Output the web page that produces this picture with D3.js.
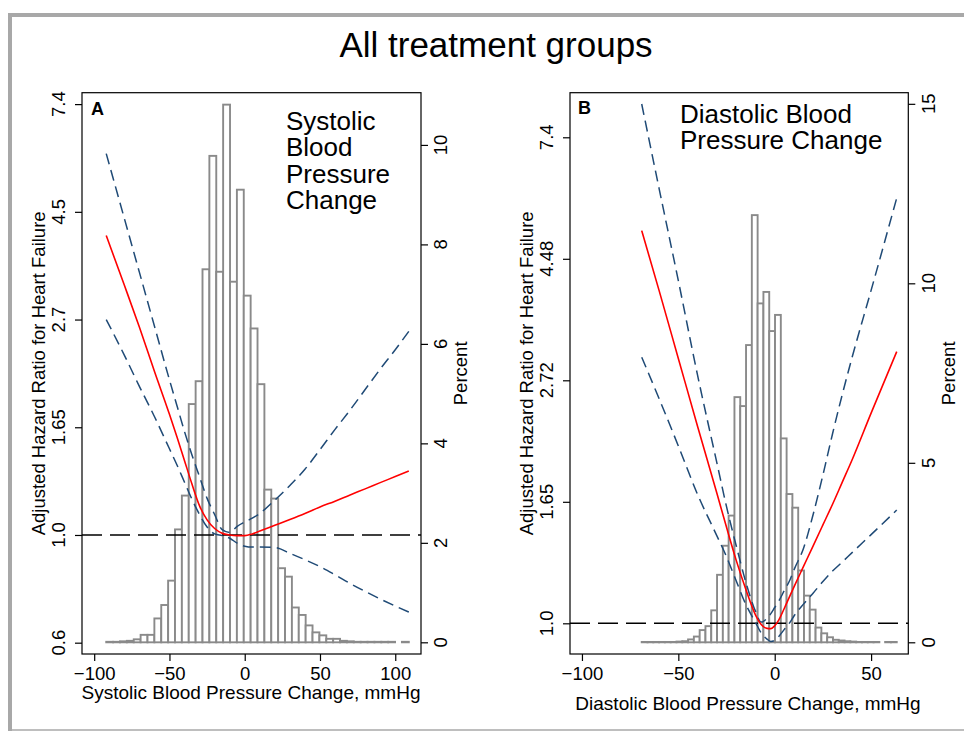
<!DOCTYPE html>
<html>
<head>
<meta charset="utf-8">
<script src="https://cdn.jsdelivr.net/npm/d3@7"></script>
<style>
    body { margin: 0; background: #ffffff; }
    svg { font-family: "Liberation Sans", Arial, Helvetica, sans-serif; }
</style>
</head>
<body>
<svg id="chart" width="964" height="731"></svg>
<script>
// ---- Panel A: systolic blood pressure change ----
const sbpHistRange = [-92, 109];
const sbpHistPct = [
    0.01, 0.01, 0.02, 0.03, 0.06, 0.15, 0.15, 0.48, 0.75, 1.24, 2.27,
    2.95, 4.79, 5.25, 7.5, 9.78, 7.45, 10.81, 7.25, 9.1, 6.97, 6.31,
    5.19, 3.07, 2.89, 1.49, 1.32, 0.7, 0.55, 0.34, 0.2, 0.14, 0.07,
    0.07, 0.03, 0.02, 0.01, 0.01, 0.01, 0.01, 0.01, 0.01, 0, 0.01
];
// curve values are log hazard ratios
const sbpX = [-92, -80, -70, -60, -50, -45, -40, -35, -30, -25, -20, -15, -10,
    -5, 0, 5, 10, 20, 30, 40, 50, 60, 70, 80, 90, 100, 109];
const sbpLogHR = [1.39, 1.16, 0.965, 0.76, 0.56, 0.455, 0.345, 0.235, 0.135, 0.07,
    0.03, 0.008, 0, -0.003, -0.003, 0.005, 0.018, 0.045, 0.072, 0.1, 0.13, 0.157,
    0.186, 0.214, 0.243, 0.271, 0.297];
const sbpUpper = [1.77, 1.47, 1.22, 0.97, 0.72, 0.6, 0.48, 0.37, 0.27, 0.17, 0.095,
    0.025, 0.012, 0.04, 0.06, 0.078, 0.1, 0.162, 0.23, 0.305, 0.396, 0.49, 0.58,
    0.675, 0.77, 0.86, 0.945];
const sbpLower = [1.0, 0.835, 0.69, 0.55, 0.4, 0.325, 0.245, 0.165, 0.095, 0.037,
    0.005, -0.003, -0.015, -0.038, -0.052, -0.056, -0.056, -0.058, -0.085, -0.115,
    -0.147, -0.185, -0.225, -0.262, -0.297, -0.33, -0.358];
const sbpXTicks = [-100, -50, 0, 50, 100];
const sbpXLabels = ['\u2212100', '\u221250', '0', '50', '100'];
const sbpYTicks = [-0.5, 0, 0.5, 1, 1.5, 2];
const sbpYLabels = ['0.6', '1.0', '1.65', '2.7', '4.5', '7.4'];
const sbpPctTicks = [0, 2, 4, 6, 8, 10];

// ---- Panel B: diastolic blood pressure change ----
const dbpHistRange = [-69, 63.3];
const dbpHistPct = [
    0.01, 0.01, 0.01, 0.01, 0.01, 0.01, 0.02, 0.03, 0.08, 0.16, 0.34,
    0.45, 0.89, 1.88, 2.69, 3.53, 6.83, 6.58, 8.28, 11.9, 9.44, 9.76,
    8.67, 9.12, 5.68, 4.13, 3.75, 2.0, 1.3, 0.91, 0.41, 0.25, 0.14,
    0.07, 0.05, 0.03, 0.02, 0.01, 0.01, 0.01, 0.01, 0, 0.01, 0.01
];
const dbpX = [-69, -60, -50, -40, -30, -25, -20, -15, -10, -7, -4, -2, 0, 2, 5, 8,
    10, 15, 20, 25, 30, 35, 40, 50, 63.3];
const dbpLogHR = [1.616, 1.37, 1.09, 0.81, 0.535, 0.395, 0.26, 0.14, 0.035, -0.005,
    -0.021, -0.022, -0.01, 0.012, 0.062, 0.115, 0.15, 0.235, 0.32, 0.405, 0.49, 0.58,
    0.67, 0.865, 1.118];
const dbpUpper = [2.137, 1.79, 1.41, 1.02, 0.66, 0.48, 0.32, 0.17, 0.05, 0.005, 0.02,
    0.04, 0.065, 0.09, 0.135, 0.18, 0.22, 0.31, 0.45, 0.61, 0.78, 0.94, 1.09, 1.37,
    1.75];
const dbpLower = [1.095, 0.925, 0.73, 0.53, 0.36, 0.274, 0.175, 0.078, 0.004, -0.04,
    -0.065, -0.075, -0.07, -0.055, -0.025, 0.005, 0.03, 0.08, 0.125, 0.172, 0.215,
    0.252, 0.29, 0.365, 0.466];
const dbpXTicks = [-100, -50, 0, 50];
const dbpXLabels = ['\u2212100', '\u221250', '0', '50'];
const dbpYTicks = [0, 0.5, 1, 1.5, 2];
const dbpYLabels = ['1.0', '1.65', '2.72', '4.48', '7.4'];
const dbpPctTicks = [0, 5, 10, 15];

const svg = d3.select('#chart');
const tickFont = 18.5;
const blue = '#1f4a76';

// page frame (grey border of the scanned figure)
svg.append('rect').attr('x', 8).attr('y', 13).attr('width', 960).attr('height', 4).attr('fill', '#a8a8a8');
svg.append('rect').attr('x', 8).attr('y', 13).attr('width', 4).attr('height', 718).attr('fill', '#a8a8a8');
svg.append('line').attr('x1', 12).attr('x2', 964).attr('y1', 730).attr('y2', 730)
    .attr('stroke', '#a8a8a8').attr('stroke-width', 1.5);

svg.append('text')
    .attr('x', 496).attr('y', 57)
    .attr('text-anchor', 'middle')
    .style('font-size', '35px')
    .text('All treatment groups');

/**
 * Rotated (bottom-to-top) text, baseline at x
 */
function vText(g, x, y, txt, size) {
    return g.append('text')
        .attr('transform', 'translate(' + x + ',' + y + ') rotate(-90)')
        .attr('text-anchor', 'middle')
        .style('font-size', size + 'px')
        .text(txt);
}

/**
 * Draw one panel: histogram on the right axis, spline + CI on the left axis
 */
function drawPanel(p) {
    const g = svg.append('g');
    const x = d3.scaleLinear().domain(p.xDomain).range([p.left, p.right]);
    const y = d3.scaleLinear().domain(p.yDomain).range([p.bottom, p.top]);
    const pct = d3.scaleLinear().domain(p.pctDomain).range([p.bottom, p.top]);

    // histogram
    const w = (p.histRange[1] - p.histRange[0]) / p.hist.length;
    const bins = p.hist.map((v, i) => ({x0: p.histRange[0] + i * w, x1: p.histRange[0] + (i + 1) * w, v: v}))
        .filter(b => b.v > 0);
    g.append('g').selectAll('rect').data(bins).enter().append('rect')
        .attr('x', b => x(b.x0))
        .attr('width', b => x(b.x1) - x(b.x0))
        .attr('y', b => pct(b.v))
        .attr('height', b => pct(0) - pct(b.v))
        .attr('fill', '#ffffff')
        .attr('stroke', '#8a8a8a')
        .attr('stroke-width', 1.9);

    // reference line HR = 1
    g.append('line')
        .attr('x1', p.left).attr('x2', p.right)
        .attr('y1', y(0)).attr('y2', y(0))
        .attr('stroke', '#000').attr('stroke-width', 1.5)
        .attr('stroke-dasharray', '20,8');

    const line = d3.line().curve(d3.curveMonotoneX).x(d => x(d[0])).y(d => y(d[1]));
    [p.upper, p.lower].forEach(function(s) {
        g.append('path')
            .datum(p.xs.map((v, i) => [v, s[i]]))
            .attr('d', line)
            .attr('fill', 'none')
            .attr('stroke', blue).attr('stroke-width', 1.5)
            .attr('stroke-dasharray', '11,6');
    });
    g.append('path')
        .datum(p.xs.map((v, i) => [v, p.hr[i]]))
        .attr('d', line)
        .attr('fill', 'none')
        .attr('stroke', '#ff0000').attr('stroke-width', 1.6);

    // plot frame
    g.append('rect')
        .attr('x', p.left).attr('y', p.top)
        .attr('width', p.right - p.left).attr('height', p.bottom - p.top)
        .attr('fill', 'none').attr('stroke', '#000').attr('stroke-width', 1.2);

    // bottom axis
    const ax = g.append('g').attr('transform', 'translate(0,' + p.bottom + ')')
        .call(d3.axisBottom(x).tickValues(p.xTicks).tickFormat((d, i) => p.xLabels[i]).tickSize(7).tickPadding(4));
    ax.select('.domain').remove();
    ax.selectAll('text').style('font-size', tickFont + 'px').attr('fill', '#000')
        .attr('dy', null).attr('y', 26);
    ax.selectAll('line').attr('stroke-width', 1.2);

    // left axis (labels drawn rotated)
    const ay = g.append('g').attr('transform', 'translate(' + p.left + ',0)')
        .call(d3.axisLeft(y).tickValues(p.yTicks).tickSize(7).tickFormat(''));
    ay.select('.domain').remove();
    ay.selectAll('line').attr('stroke-width', 1.2);
    p.yTicks.forEach((t, i) => vText(g, p.leftLabelX, y(t), p.yLabels[i], tickFont));

    // right axis (percent)
    const ar = g.append('g').attr('transform', 'translate(' + p.right + ',0)')
        .call(d3.axisRight(pct).tickValues(p.pctTicks).tickSize(7).tickFormat(''));
    ar.select('.domain').remove();
    ar.selectAll('line').attr('stroke-width', 1.2);
    p.pctTicks.forEach(t => vText(g, p.rightLabelX, pct(t), String(t), tickFont));

    // titles
    vText(g, p.yTitleX, (p.top + p.bottom) / 2, 'Adjusted Hazard Ratio for Heart Failure', 18.5);
    vText(g, p.pctTitleX, (p.top + p.bottom) / 2, 'Percent', 18.5);
    g.append('text')
        .attr('x', p.xTitleX).attr('y', p.xTitleY)
        .attr('text-anchor', 'middle')
        .style('font-size', '19px')
        .text(p.xTitle);

    g.append('text')
        .attr('x', p.letterX).attr('y', p.letterY)
        .style('font-size', '18px').style('font-weight', 'bold')
        .text(p.letter);

    // panel caption, one <text> with line breaks as tspans
    const note = g.append('text')
        .attr('x', p.noteX).attr('y', p.noteY)
        .style('font-size', '26px');
    p.note.forEach(function(t, i) {
        note.append('tspan')
            .attr('x', p.noteX)
            .attr('dy', i === 0 ? 0 : 26.3)
            .text(t);
    });
}

drawPanel({
    left: 82, right: 421, top: 92.7, bottom: 654,
    xDomain: [-108.1, 117.1], yDomain: [-0.5525, 2.053], pctDomain: [-0.235, 11.05],
    hist: sbpHistPct, histRange: sbpHistRange,
    xs: sbpX, hr: sbpLogHR, upper: sbpUpper, lower: sbpLower,
    xTicks: sbpXTicks, xLabels: sbpXLabels,
    yTicks: sbpYTicks, yLabels: sbpYLabels, pctTicks: sbpPctTicks,
    leftLabelX: 65, rightLabelX: 447, yTitleX: 45, pctTitleX: 467,
    xTitle: 'Systolic Blood Pressure Change, mmHg', xTitleX: 251, xTitleY: 699,
    letter: 'A', letterX: 91, letterY: 115,
    note: ['Systolic', 'Blood', 'Pressure', 'Change'], noteX: 286, noteY: 130
});

drawPanel({
    left: 570, right: 908.3, top: 92.7, bottom: 654,
    xDomain: [-106.2, 69.3], yDomain: [-0.1263, 2.1835], pctDomain: [-0.326, 15.31],
    hist: dbpHistPct, histRange: dbpHistRange,
    xs: dbpX, hr: dbpLogHR, upper: dbpUpper, lower: dbpLower,
    xTicks: dbpXTicks, xLabels: dbpXLabels,
    yTicks: dbpYTicks, yLabels: dbpYLabels, pctTicks: dbpPctTicks,
    leftLabelX: 553, rightLabelX: 935, yTitleX: 533, pctTitleX: 955,
    xTitle: 'Diastolic Blood Pressure Change, mmHg', xTitleX: 748, xTitleY: 710,
    letter: 'B', letterX: 578, letterY: 114,
    note: ['Diastolic Blood', 'Pressure Change'], noteX: 680, noteY: 123
});
</script>
</body>
</html>
